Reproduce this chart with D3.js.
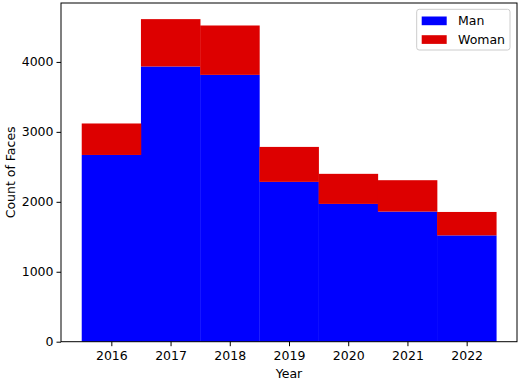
<!DOCTYPE html>
<html><head><meta charset="utf-8">
<script src="https://cdn.jsdelivr.net/npm/d3@7"></script>
<style>body{margin:0;background:#fff}svg{display:block}text{font-family:"DejaVu Sans",sans-serif}</style>
</head><body><svg id="c" width="520" height="381"></svg>
<script>
const years = [2016, 2017, 2018, 2019, 2020, 2021, 2022];
const man = [2670, 3935, 3815, 2285, 1970, 1860, 1520];
const woman = [450, 677, 706, 500, 430, 449, 335];
const yTicks = [0, 1000, 2000, 3000, 4000];
const seriesNames = ["Man", "Woman"];
const colors = ["#0000ff", "#dd0000"];

const svg = d3.select("#c");
const L = 61, R = 517, T = 3, B = 341.7;
const totals = years.map((y, i) => man[i] + woman[i]);
const ymax = d3.max(totals) * 1.05;
const x = d3.scaleLinear().domain([2015.15, 2022.85]).range([L, R]);
const y = d3.scaleLinear().domain([0, ymax]).range([B, T]);

const rows = years.map((yr, i) => ({year: yr, Man: man[i], Woman: woman[i]}));
const stack = d3.stack().keys(seriesNames)(rows);
svg.append("g").selectAll("g").data(stack).join("g")
  .attr("fill", (d, i) => colors[i])
  .selectAll("rect").data(d => d).join("rect")
  .attr("x", d => x(d.data.year - 0.5))
  .attr("width", d => x(d.data.year + 0.5) - x(d.data.year - 0.5) + 0.3)
  .attr("y", d => y(d[1]))
  .attr("height", d => y(d[0]) - y(d[1]));

const fs = "12.5px";
const xAxis = svg.append("g").attr("transform", `translate(0,${B})`)
  .call(d3.axisBottom(x).tickValues(years).tickFormat(d3.format("d")).tickSize(4.5).tickSizeOuter(0));
const yAxis = svg.append("g").attr("transform", `translate(${L},0)`)
  .call(d3.axisLeft(y).tickValues(yTicks).tickFormat(d3.format("d")).tickSize(4.5).tickSizeOuter(0));
[xAxis, yAxis].forEach(g => {
  g.select(".domain").remove();
  g.selectAll("line").attr("stroke", "#000").attr("stroke-width", 1);
  g.selectAll("text").attr("font-size", fs).attr("font-family", "DejaVu Sans").attr("fill", "#000");
});
xAxis.selectAll("text").attr("dy", "0.9em");

svg.append("rect").attr("x", L).attr("y", T).attr("width", R - L).attr("height", B - T)
  .attr("fill", "none").attr("stroke", "#000").attr("stroke-width", 1);

svg.append("text").attr("x", (L + R) / 2).attr("y", 378).attr("text-anchor", "middle")
  .attr("font-size", fs).text("Year");
svg.append("text").attr("transform", `translate(15,${(T + B) / 2}) rotate(-90)`)
  .attr("text-anchor", "middle").attr("font-size", fs).text("Count of Faces");

const lg = svg.append("g");
lg.append("rect").attr("x", 416.7).attr("y", 9.3).attr("width", 93.3).attr("height", 40.7)
  .attr("rx", 2.5).attr("fill", "#fff").attr("fill-opacity", 0.8).attr("stroke", "#ccc");
seriesNames.forEach((n, i) => {
  lg.append("rect").attr("x", 421.7).attr("y", 16.5 + i * 18.7).attr("width", 25).attr("height", 8.7).attr("fill", colors[i]);
  lg.append("text").attr("x", 458).attr("y", 25 + i * 18.7).attr("font-size", fs).text(n);
});
</script></body></html>
